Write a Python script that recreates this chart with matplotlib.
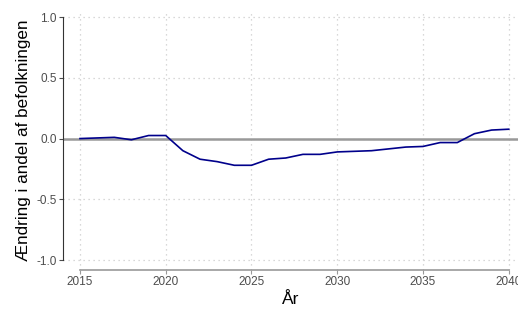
import numpy as np
import matplotlib
matplotlib.use("Agg")
import matplotlib.pyplot as plt

plt.rcParams['font.family'] = ['Liberation Sans', 'DejaVu Sans']

years = list(range(2015, 2041))
change = [0.0, 0.005, 0.01, -0.01, 0.025, 0.025, -0.10, -0.17, -0.19, -0.22,
          -0.22, -0.17, -0.16, -0.13, -0.13, -0.11, -0.105, -0.10, -0.085, -0.07,
          -0.065, -0.033, -0.033, 0.04, 0.07, 0.077]
x_ticks = [2015, 2020, 2025, 2030, 2035, 2040]
y_ticks = [-1.0, -0.5, 0.0, 0.5, 1.0]

W, H = 518, 309
fig = plt.figure(figsize=(W / 100, H / 100), dpi=100)
ax = fig.add_axes([63 / W, 1 - 270 / H, (W - 63) / W, (270 - 11) / H])

ax.set_xlim(2014.01, 2040.54)
ax.set_ylim(-1.082, 1.05)

ax.grid(True, color='#cccccc', linestyle=(0, (1, 3)), linewidth=0.9)
ax.axhline(0, color='#999999', linewidth=1.8, zorder=2)
ax.plot(years, change, color='#00008b', linewidth=1.2, zorder=3)

for s in ['top', 'right']:
    ax.spines[s].set_visible(False)
ax.spines['left'].set_bounds(-1.0, 1.0)
ax.spines['left'].set_color('#333333')
ax.spines['bottom'].set_bounds(2015, 2040)
ax.spines['bottom'].set_color('#999999')
ax.spines['bottom'].set_linewidth(1.2)

ax.set_xticks(x_ticks)
ax.set_yticks(y_ticks)
ax.set_yticklabels([f'{v:.1f}' for v in y_ticks])
ax.tick_params(axis='both', labelsize=8.5, colors='#4d4d4d', length=3, pad=1.5)
ax.tick_params(axis='x', color='#999999')

ax.set_xlabel('År', fontsize=12.5, labelpad=3)
ax.set_ylabel('Ændring i andel af befolkningen', fontsize=12.3, labelpad=4)

fig.savefig('out.png', dpi=100)
